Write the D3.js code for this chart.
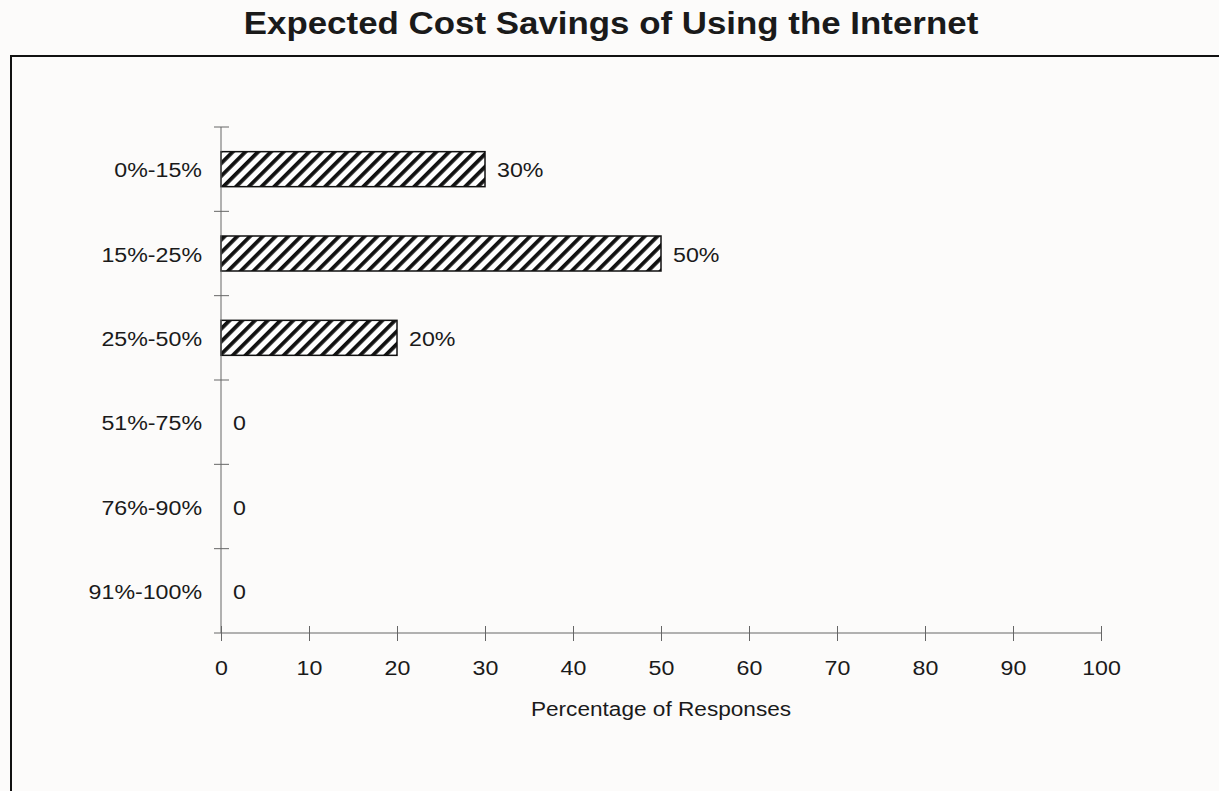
<!DOCTYPE html>
<html>
<head>
<meta charset="utf-8">
<script src="https://cdn.jsdelivr.net/npm/d3@7/dist/d3.min.js"></script>
<style>
  html, body { margin: 0; padding: 0; background: #fcfbfa; }
  svg { display: block; font-family: "Liberation Sans", Arial, Helvetica, sans-serif; }
</style>
</head>
<body>
<svg id="chart" width="1219" height="791"></svg>
<script>
// Survey responses: expected cost savings ranges and share of responses (%)
const categories = ["0%-15%", "15%-25%", "25%-50%", "51%-75%", "76%-90%", "91%-100%"];
const responses = [30, 50, 20, 0, 0, 0];
const valueLabels = ["30%", "50%", "20%", "0", "0", "0"];
const xTicks = [0, 10, 20, 30, 40, 50, 60, 70, 80, 90, 100];

const svg = d3.select("#chart");
const W = 1219, H = 791;
const SX = 1.16;          // horizontal stretch of the typeface
const textColor = "#1a1a1a";

const plot = { left: 221, right: 1101, top: 127, bottom: 633 };

const x = d3.scaleLinear().domain([0, 100]).range([plot.left, plot.right]);
const y = d3.scaleBand().domain(categories).range([plot.top, plot.bottom]).paddingInner(0.585).paddingOuter(0.2925);

// Diagonal hatch fill for the bars
const defs = svg.append("defs");
const pat = defs.append("pattern")
  .attr("id", "hatch")
  .attr("patternUnits", "userSpaceOnUse")
  .attr("width", 9).attr("height", 9)
  .attr("patternTransform", "rotate(45)");
pat.append("rect").attr("width", 9).attr("height", 9).attr("fill", "#ffffff");
pat.append("rect").attr("x", 0).attr("y", 0).attr("width", 3.8).attr("height", 9).attr("fill", "#111");

// Title
svg.append("text")
  .attr("transform", `translate(611,34) scale(1.09,1)`)
  .attr("text-anchor", "middle")
  .attr("font-size", 32).attr("font-weight", "bold").attr("fill", textColor)
  .text("Expected Cost Savings of Using the Internet");

// Outer frame (runs past the right and bottom edges)
svg.append("path")
  .attr("d", `M11,${H + 5} L11,56 L${W + 5},56`)
  .attr("fill", "none").attr("stroke", "#111").attr("stroke-width", 2);

// Bars
svg.append("g").selectAll("rect")
  .data(responses)
  .join("rect")
  .attr("x", x(0))
  .attr("y", (d, i) => y(categories[i]))
  .attr("width", d => x(d) - x(0))
  .attr("height", y.bandwidth())
  .attr("fill", "url(#hatch)")
  .attr("stroke", d => d > 0 ? "#111" : "none")
  .attr("stroke-width", 1.5);

// Y axis: line with ticks crossing it at band boundaries
const yAxisG = svg.append("g").attr("stroke", "#666").attr("stroke-width", 1);
yAxisG.append("line").attr("x1", x(0)).attr("x2", x(0)).attr("y1", plot.top).attr("y2", plot.bottom);
const bounds = d3.range(categories.length).map(i => plot.top + i * (plot.bottom - plot.top) / categories.length);
yAxisG.selectAll("line.tk").data(bounds).join("line")
  .attr("class", "tk")
  .attr("x1", x(0) - 7).attr("x2", x(0) + 8)
  .attr("y1", d => d).attr("y2", d => d);

// Category labels
svg.append("g").selectAll("text")
  .data(categories)
  .join("text")
  .attr("transform", d => `translate(202,${y(d) + y.bandwidth() / 2}) scale(${SX},1)`)
  .attr("dy", "0.4em")
  .attr("text-anchor", "end")
  .attr("font-size", 20).attr("fill", textColor)
  .text(d => d);

// Value labels
svg.append("g").selectAll("text")
  .data(responses)
  .join("text")
  .attr("transform", (d, i) => `translate(${x(d) + 12},${y(categories[i]) + y.bandwidth() / 2}) scale(${SX},1)`)
  .attr("dy", "0.4em")
  .attr("font-size", 20).attr("fill", textColor)
  .text((d, i) => valueLabels[i]);

// X axis
const xAxis = d3.axisBottom(x).tickValues(xTicks).tickSize(0).tickPadding(0);
const xg = svg.append("g").attr("transform", `translate(0,${plot.bottom})`).call(xAxis);
xg.select(".domain").remove();
xg.append("line").attr("x1", x(0) - 7).attr("x2", x(100)).attr("y1", 0).attr("y2", 0)
  .attr("stroke", "#666").attr("stroke-width", 1);
xg.selectAll(".tick").append("line")
  .attr("y1", -7).attr("y2", 8).attr("stroke", "#666").attr("stroke-width", 1);
xg.selectAll(".tick text")
  .attr("y", 0).attr("dy", 0)
  .attr("transform", `translate(0,42) scale(${SX},1)`)
  .attr("font-size", 20).attr("fill", textColor)
  .attr("font-family", "'Liberation Sans', Arial, sans-serif");

// X axis title
svg.append("text")
  .attr("transform", `translate(${(plot.left + plot.right) / 2},716) scale(${SX},1)`)
  .attr("text-anchor", "middle")
  .attr("font-size", 19.5).attr("fill", textColor)
  .text("Percentage of Responses");
</script>
</body>
</html>
